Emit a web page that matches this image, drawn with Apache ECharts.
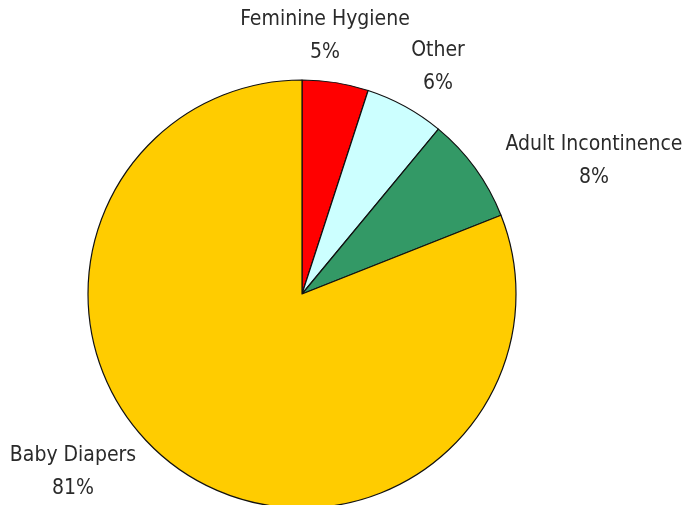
<!DOCTYPE html>
<html>
<head>
<meta charset="utf-8">
<script src="https://cdn.jsdelivr.net/npm/echarts@6/dist/echarts.min.js"></script>
<style>
  html, body { margin: 0; padding: 0; background: #fff; }
  #chart { width: 687px; height: 505px; }
</style>
</head>
<body>
<div id="chart"></div>
<script>
  // slices, clockwise from 12 o'clock
  const categories = ['Feminine Hygiene', 'Other', 'Adult Incontinence', 'Baby Diapers'];
  const shares = [5, 6, 8, 81];
  const colors = ['#FF0000', '#CCFFFF', '#339966', '#FFCC00'];

  // label block centres, relative to the pie centre (layout only)
  const CX = 302, CY = 294;
  const labelOffsets = [[23, -258], [136, -227], [292, -133], [-229, 178]];

  const chart = echarts.init(document.getElementById('chart'));
  chart.setOption({
    backgroundColor: '#fff',
    animation: false,
    series: [{
      type: 'pie',
      center: [CX, CY],
      radius: 214,
      startAngle: 90,
      clockwise: true,
      avoidLabelOverlap: false,
      data: categories.map((name, i) => ({
        name: name,
        value: shares[i],
        itemStyle: { color: colors[i] }
      })),
      itemStyle: { borderColor: '#111', borderWidth: 1.2 },
      label: {
        show: true,
        position: 'outside',
        formatter: '{b}\n{c}%',
        fontFamily: '"Liberation Sans Narrow", "DejaVu Sans Condensed", sans-serif',
        fontSize: 21,
        lineHeight: 33,
        color: '#2a2a2a',
        align: 'center'
      },
      labelLine: { show: false },
      labelLayout: function (params) {
        const off = labelOffsets[params.dataIndex];
        return {
          x: CX + off[0],
          y: CY + off[1],
          align: 'center',
          verticalAlign: 'middle'
        };
      },
      emphasis: { disabled: true }
    }]
  });
</script>
</body>
</html>
